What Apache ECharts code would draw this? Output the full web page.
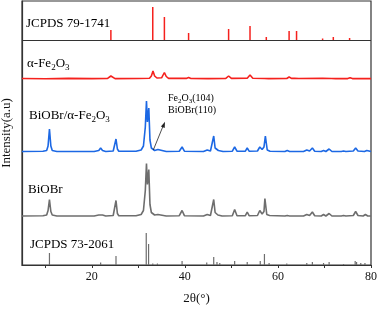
<!DOCTYPE html>
<html><head><meta charset="utf-8">
<script src="https://cdn.jsdelivr.net/npm/echarts@6/dist/echarts.min.js"></script>
<style>html,body{margin:0;padding:0;background:#fff}#c{width:378px;height:309px}</style>
</head><body><div id="c"></div>
<script>
// ---- data (2θ in degrees, intensity in arbitrary units) ----
const xLabels = [20, 40, 60, 80];
const xTickValues = [10, 20, 30, 40, 50, 60, 70, 80];

const jcpds79Sticks = [[24.1,10],[33.1,33],[35.6,23],[40.8,7],[49.4,11],[54.0,14],[57.5,3],[62.4,9],[64.0,9],[69.6,1.5],[71.9,3],[75.4,2]];

const fe2o3Curve = [[5,0.5],[10,0.3],[15,0.6],[20,0.4],[23.4,0.6],[23.8,1.5],[24.1,3],[24.5,1.2],[25,0.4],[30,0.5],[32.4,0.8],[32.8,3],[33.15,8],[33.5,3],[34,1],[35.0,1.2],[35.3,3],[35.6,6.5],[36,2.5],[36.5,0.6],[40.3,0.6],[40.8,1.5],[41.3,0.5],[45,0.4],[48.8,0.6],[49.4,3],[50,0.6],[53.4,0.8],[54.0,4],[54.6,0.8],[57.1,0.5],[57.5,1.2],[58,0.4],[61.9,0.5],[62.4,2],[62.9,0.6],[63.6,0.6],[64.0,2],[64.5,0.5],[69.6,0.8],[71.5,0.5],[71.9,1.2],[72.4,0.4],[75.0,0.4],[75.5,1.2],[76,0.4],[80,0.4]];

const compositeCurve = [[5,0.5],[9.5,0.8],[10.3,1.5],[10.6,6],[10.9,23],[11.2,6],[11.5,1.5],[12.5,0.5],[20.5,0.5],[21.5,1.5],[21.9,4],[22.3,1.5],[23,0.5],[24.6,1],[24.9,3],[25.2,13],[25.5,3],[25.8,0.8],[29.5,0.8],[30.6,2],[31.1,6],[31.5,25],[31.75,51],[31.95,30],[32.25,44],[32.5,12],[32.8,4],[33.1,3],[33.5,1.5],[34.2,2.5],[34.6,1],[36,0.5],[38.8,0.8],[39.4,5],[39.9,0.8],[44,0.5],[44.8,2],[45.5,1],[45.9,3],[46.2,16],[46.5,4],[46.9,4],[47.2,1.5],[47.6,2],[48.2,0.5],[50.2,0.8],[50.7,5],[51.2,0.8],[53,0.8],[53.4,4],[53.8,0.8],[55.6,1],[56.1,5],[56.6,2.5],[57.0,5],[57.3,16],[57.7,2],[58.3,0.8],[61.5,0.5],[62,1.5],[62.5,0.5],[65.5,0.5],[66.2,2],[66.8,1],[67.4,4],[67.9,0.8],[69.3,0.5],[69.8,1.5],[70.3,0.5],[71,3],[71.6,0.5],[73.6,0.5],[74.1,1],[74.6,0.5],[76.2,1],[76.7,4],[77.2,1],[78.6,0.5],[79.1,1.5],[80,0.5]];

const biobrCurve = [[5,0.5],[9.5,0.8],[10.3,1.5],[10.6,6],[10.9,17],[11.2,5],[11.5,1.5],[12.5,0.5],[20.5,0.5],[21.5,1.5],[21.9,3.5],[22.3,1.5],[23,0.5],[24.6,1],[24.9,3],[25.2,16],[25.5,3],[25.8,0.8],[29.5,0.8],[30.6,2],[31.1,6],[31.5,26],[31.75,53],[31.95,32],[32.25,47],[32.5,12],[32.8,4],[33.1,3],[33.5,1.5],[34.2,2],[34.6,1],[36,0.5],[38.8,0.8],[39.4,6],[39.9,0.8],[44,0.5],[44.8,2],[45.5,1],[45.9,3],[46.2,17],[46.5,4],[46.8,5],[47.1,1.5],[47.5,3],[48.0,0.5],[50.2,0.8],[50.7,7],[51.2,0.8],[53,0.8],[53.4,4.5],[53.8,0.8],[55.6,1],[56.1,6],[56.6,2.5],[57.0,5],[57.2,18],[57.6,2],[58.2,1],[58.6,0.5],[61.5,0.5],[62,1],[62.5,0.5],[65.5,0.5],[66.2,2],[66.8,1],[67.4,4.5],[67.9,0.8],[69.3,0.5],[69.8,2],[70.3,0.5],[71,3],[71.6,0.5],[73.6,0.5],[74.1,1],[74.6,0.5],[76.2,1],[76.7,5],[77.2,1],[78.3,0.5],[78.8,2],[79.3,0.5],[80,0.5]];

const jcpds73Sticks = [[10.9,12],[21.9,2.5],[25.2,9],[31.7,32],[32.2,21],[33.1,1.5],[34.1,1.5],[39.4,4],[44.7,2.5],[46.2,8],[46.9,3],[47.5,2],[50.7,4],[53.4,3],[56.2,4],[57.1,11],[58.1,2],[61.9,1.5],[66.2,2],[67.4,3],[69.8,2],[71.0,3],[74.1,1],[76.6,4],[76.9,3],[77.8,2],[78.7,2]];

// vertical offsets of each pattern (stacking)
const OFF_J79 = 225, OFF_FE = 186, OFF_COMP = 113, OFF_BIOBR = 48.5, OFF_J73 = 0;

const FONT = '"Liberation Serif","Times New Roman",serif';
const RED = '#f5211d', BLUE = '#1c68e4', GRAY = '#6e6e6e';

function shift(arr, off) { return arr.map(p => [p[0], p[1] + off]); }
function stickSeries(sticks, off, color, width) {
  return {
    type: 'custom', silent: true, z: 3,
    data: sticks.map(s => [s[0], s[1]]),
    renderItem: function (params, api) {
      const x = api.value(0), h = api.value(1);
      const p0 = api.coord([x, off]);
      const p1 = api.coord([x, off + h]);
      return { type: 'line', shape: { x1: p0[0], y1: p0[1], x2: p1[0], y2: p1[1] },
               style: { stroke: color, lineWidth: width } };
    }
  };
}
function lineSeries(arr, off, color) {
  return { type: 'line', data: shift(arr, off), showSymbol: false, silent: true, z: 3,
           lineStyle: { color: color, width: 1.6 } };
}

const chart = echarts.init(document.getElementById('c'), null, { renderer: 'canvas' });
const sub = { fontSize: 9, fontFamily: FONT, color: '#111', lineHeight: 9, padding: [8, 0, 0, 0], verticalAlign: 'bottom' };
const main13 = { fontSize: 13, fontFamily: FONT, color: '#111', lineHeight: 15, verticalAlign: 'top' };
const main10 = { fontSize: 10, fontFamily: FONT, color: '#111', lineHeight: 12, verticalAlign: 'top' };
const sub7 = { fontSize: 7, fontFamily: FONT, color: '#111', lineHeight: 7, padding: [7, 0, 0, 0], verticalAlign: 'bottom' };

function label(x, y, text, big) {
  return { type: 'text', left: x, top: y, z: 10,
    style: { text: text, rich: big ? { a: main13, s: sub } : { a: main10, s: sub7 } } };
}

chart.setOption({
  animation: false,
  grid: { left: 22, right: 7, top: 1, bottom: 44, show: true, borderColor: '#333', borderWidth: 1.2,
          containLabel: false, outerBoundsMode: 'none' },
  xAxis: {
    type: 'value', min: 5, max: 80,
    axisLine: { show: true, lineStyle: { color: '#333', width: 1.2 } },
    axisTick: { show: true, length: 3, customValues: xTickValues, lineStyle: { color: '#333' } },
    axisLabel: { customValues: xLabels, fontFamily: FONT, fontSize: 12, color: '#111', margin: 6 },
    splitLine: { show: false },
    name: '2θ(°)', nameLocation: 'middle', nameGap: 27,
    nameTextStyle: { fontFamily: FONT, fontSize: 13, color: '#111' }
  },
  yAxis: {
    type: 'value', min: 0, max: 264,
    axisLine: { show: true, lineStyle: { color: '#333', width: 1.2 } },
    axisTick: { show: false }, axisLabel: { show: false }, splitLine: { show: false },
    name: 'Intensity(a.u)', nameLocation: 'middle', nameGap: 9, nameRotate: 90,
    nameTextStyle: { fontFamily: FONT, fontSize: 13, color: '#111' }
  },
  series: [
    Object.assign(stickSeries(jcpds79Sticks, OFF_J79, RED, 1.5), {
      markLine: { silent: true, symbol: ['none', 'none'], label: { show: false },
        lineStyle: { color: '#333', width: 1.2, type: 'solid' }, data: [{ yAxis: OFF_J79 }] }
    }),
    lineSeries(fe2o3Curve, OFF_FE, RED),
    lineSeries(compositeCurve, OFF_COMP, BLUE),
    lineSeries(biobrCurve, OFF_BIOBR, GRAY),
    stickSeries(jcpds73Sticks, OFF_J73, GRAY, 1.2)
  ],
  graphic: [
    label(26, 17, '{a|JCPDS 79-1741}', true),
    label(27, 55, '{a|α-Fe}{s|2}{a|O}{s|3}', true),
    label(29, 107, '{a|BiOBr/α-Fe}{s|2}{a|O}{s|3}', true),
    label(28, 183, '{a|BiOBr}', true),
    label(30, 238, '{a|JCPDS 73-2061}', true),
    label(168, 91, '{a|Fe}{s|2}{a|O}{s|3}{a|(104)}', false),
    label(168, 105, '{a|BiOBr(110)}', false),
    { type: 'line', z: 10, shape: { x1: 153.3, y1: 150, x2: 163.5, y2: 125 }, style: { stroke: '#222', lineWidth: 0.8 } },
    { type: 'polygon', z: 10, shape: { points: [[165, 121.7], [164.7, 128.0], [160.9, 126.4]] }, style: { fill: '#222' } }
  ]
});
</script></body></html>
